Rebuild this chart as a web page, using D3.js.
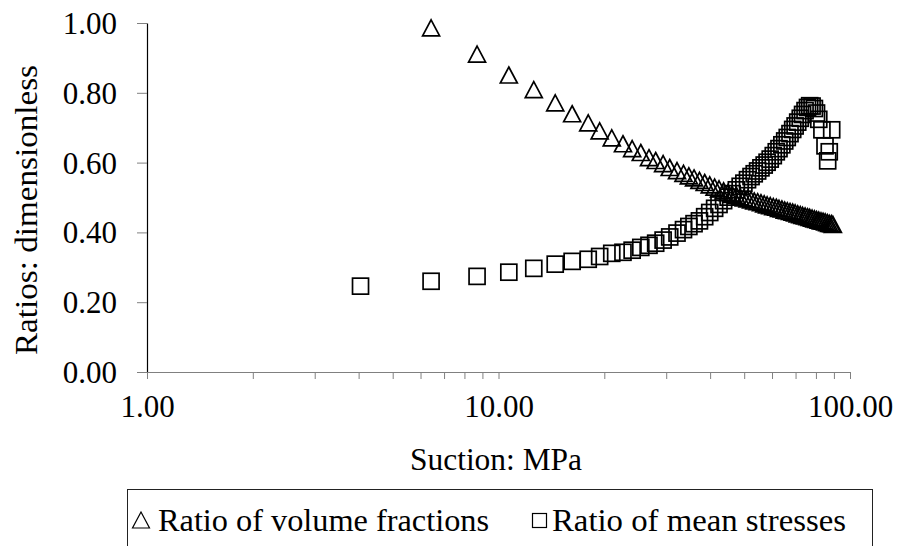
<!DOCTYPE html>
<html>
<head>
<meta charset="utf-8">
<script src="https://cdn.jsdelivr.net/npm/d3@7"></script>
<style>
  body { margin: 0; background: #fff; }
  text { font-family: "Liberation Serif", "Times New Roman", serif; fill: #000; }
</style>
</head>
<body>
<div id="chart"></div>
<script>
// suction (MPa) and ratio
const volSuction = [6.43, 8.69, 10.7, 12.6, 14.5, 16.2, 18.0, 19.4, 21.0, 22.6, 24.0, 25.4, 26.8, 28.0, 29.4, 30.7, 32.2,
  33.6, 34.8, 36.0, 37.3, 38.6, 39.9, 41.2, 42.4, 43.7, 45.0, 46.2, 47.5, 48.7, 49.9, 51.1, 52.3, 53.4, 54.6, 55.8,
  57.0, 58.1, 59.3, 60.5, 61.7, 62.8, 64.0, 65.2, 66.3, 67.5, 68.7, 69.8, 71.0, 72.2, 73.3, 74.5, 75.7, 76.8, 78.0,
  79.2, 80.3, 81.5, 82.7, 83.8, 85.0, 86.2, 87.3, 88.5, 89.4];
const volRatio = [0.986, 0.911, 0.851, 0.809, 0.771, 0.740, 0.714, 0.691, 0.671, 0.654, 0.640, 0.629, 0.614, 0.606, 0.597, 0.586, 0.577,
  0.569, 0.562, 0.556, 0.549, 0.543, 0.536, 0.530, 0.525, 0.519, 0.514, 0.509, 0.506, 0.502, 0.499, 0.496, 0.493, 0.490, 0.488, 0.485,
  0.482, 0.479, 0.477, 0.474, 0.472, 0.469, 0.467, 0.464, 0.462, 0.460, 0.458, 0.456, 0.453, 0.451, 0.449, 0.447, 0.445, 0.443, 0.441,
  0.439, 0.437, 0.435, 0.433, 0.432, 0.430, 0.428, 0.426, 0.425, 0.423];

const stressSuction = [4.05, 6.43, 8.69, 10.7, 12.6, 14.5, 16.2, 18.0, 19.4, 21.0, 22.6, 24.0, 25.4, 26.8, 28.0, 29.4, 30.7, 32.2,
  33.6, 34.8, 36.0, 37.3, 38.6, 39.9, 41.2, 42.4, 43.7, 45.0, 46.2, 47.5, 48.7, 49.9, 51.1, 52.3, 53.4, 54.6, 55.8,
  57.0, 58.1, 59.3, 60.5, 61.7, 62.8, 64.0, 65.2, 66.3, 67.5, 68.7, 69.8, 71.0, 72.2, 73.3, 74.5, 75.7, 76.8, 78.0,
  79.2, 80.3, 81.5, 83.2, 88.7, 84.9, 87.3, 86.4];
const stressRatio = [0.246, 0.260, 0.274, 0.286, 0.297, 0.309, 0.317, 0.323, 0.331, 0.340, 0.343, 0.349, 0.357, 0.363, 0.369, 0.378, 0.387, 0.398,
  0.408, 0.417, 0.425, 0.433, 0.445, 0.457, 0.469, 0.480, 0.491, 0.501, 0.511, 0.522, 0.532, 0.541, 0.551, 0.560, 0.568, 0.576, 0.585,
  0.593, 0.601, 0.610, 0.620, 0.631, 0.640, 0.651, 0.662, 0.672, 0.683, 0.695, 0.705, 0.716, 0.727, 0.738, 0.749, 0.758, 0.763, 0.762,
  0.755, 0.742, 0.724, 0.694, 0.694, 0.648, 0.631, 0.605];

const yTicks = [0, 0.2, 0.4, 0.6, 0.8, 1.0];
const xLabelTicks = [1, 10, 100];
const seriesNames = ["Ratio of volume fractions", "Ratio of mean stresses"];
const xTitle = "Suction: MPa";
const yTitle = "Ratios: dimensionless";

const width = 897, height = 546;

const x = d3.scaleLog().domain([1, 100]).range([147, 850]);
const y = d3.scaleLinear().domain([0, 1]).range([372, 23]);

const svg = d3
  .select("#chart")
  .append("svg")
  .attr("width", width)
  .attr("height", height);

// y axis
const yAxis = svg
  .append("g")
  .attr("transform", `translate(${x(1)},0)`)
  .call(
    d3.axisLeft(y).tickValues(yTicks).tickSize(10).tickSizeOuter(0).tickPadding(20).tickFormat(d3.format(".2f"))
  );
yAxis.select(".domain").attr("stroke", "#000").attr("stroke-width", 1.2);
yAxis.selectAll(".tick line").attr("stroke", "#808080");
yAxis.selectAll("text").style("font-size", "31px").attr("dy", "0.34em");

// x axis
const xAxis = svg
  .append("g")
  .attr("transform", `translate(0,${y(0)})`)
  .call(
    d3.axisBottom(x).tickValues(x.ticks()).tickSize(7).tickSizeOuter(0).tickPadding(16)
      .tickFormat((d) => (xLabelTicks.includes(d) ? d3.format(".2f")(d) : ""))
  );
xAxis.select(".domain").attr("stroke", "#808080").attr("stroke-width", 1.2);
xAxis.selectAll(".tick line").attr("stroke", "#808080");
xAxis.selectAll("text").style("font-size", "31px");

// titles
svg
  .append("text")
  .attr("x", 496)
  .attr("y", 470)
  .attr("text-anchor", "middle")
  .style("font-size", "32px")
  .attr("textLength", 172)
  .attr("lengthAdjust", "spacingAndGlyphs")
  .text(xTitle);

svg
  .append("text")
  .attr("transform", "translate(37,210) rotate(-90)")
  .attr("text-anchor", "middle")
  .style("font-size", "32px")
  .attr("textLength", 290)
  .attr("lengthAdjust", "spacingAndGlyphs")
  .text(yTitle);

const triPath = "M0,-8L8.5,8L-8.5,8Z";

// triangles
svg
  .append("g")
  .selectAll("path")
  .data(volSuction.map((s, i) => [s, volRatio[i]]))
  .join("path")
  .attr("d", triPath)
  .attr("transform", (d) => `translate(${x(d[0])},${y(d[1])})`)
  .attr("fill", "none")
  .attr("stroke", "#000")
  .attr("stroke-width", 1.7);

// squares
svg
  .append("g")
  .selectAll("rect")
  .data(stressSuction.map((s, i) => [s, stressRatio[i]]))
  .join("rect")
  .attr("x", (d) => x(d[0]) - 8)
  .attr("y", (d) => y(d[1]) - 8)
  .attr("width", 16)
  .attr("height", 16)
  .attr("fill", "none")
  .attr("stroke", "#000")
  .attr("stroke-width", 1.7);

// legend
const legend = svg.append("g");
legend
  .append("rect")
  .attr("x", 127.5)
  .attr("y", 489.5)
  .attr("width", 745)
  .attr("height", 100)
  .attr("fill", "none")
  .attr("stroke", "#222")
  .attr("stroke-width", 1);

legend
  .append("path")
  .attr("d", "M141,512L149.5,528L132.5,528Z")
  .attr("fill", "none")
  .attr("stroke", "#000")
  .attr("stroke-width", 1.2);
legend
  .append("text")
  .attr("x", 158)
  .attr("y", 531)
  .style("font-size", "32px")
  .attr("textLength", 331)
  .attr("lengthAdjust", "spacingAndGlyphs")
  .text(seriesNames[0]);

legend
  .append("rect")
  .attr("x", 532.5)
  .attr("y", 513.5)
  .attr("width", 14)
  .attr("height", 14)
  .attr("fill", "none")
  .attr("stroke", "#000")
  .attr("stroke-width", 1.2);
legend
  .append("text")
  .attr("x", 552)
  .attr("y", 531)
  .style("font-size", "32px")
  .attr("textLength", 294)
  .attr("lengthAdjust", "spacingAndGlyphs")
  .text(seriesNames[1]);
</script>
</body>
</html>
